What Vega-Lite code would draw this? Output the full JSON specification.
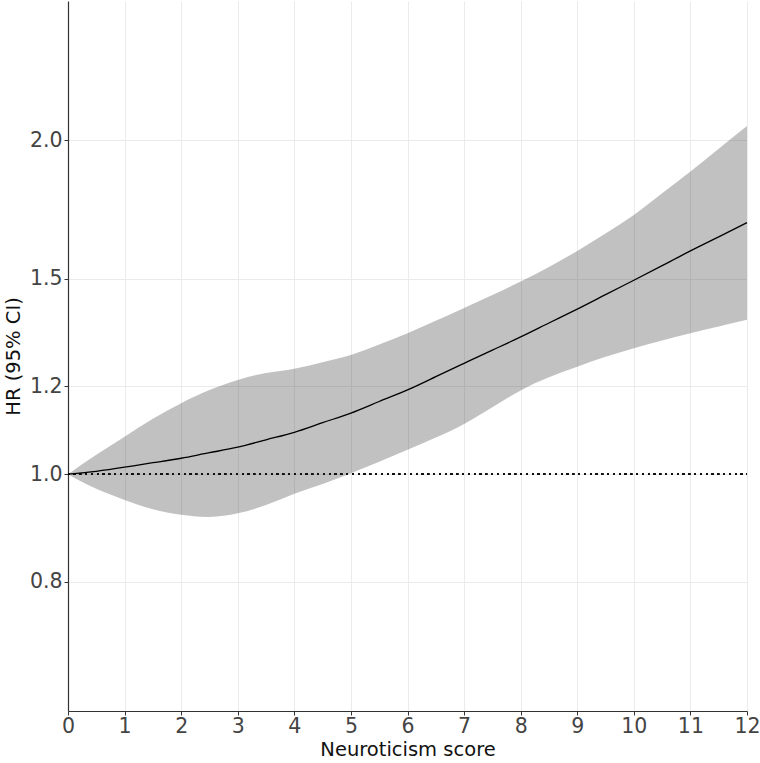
{
  "$schema": "https://vega.github.io/schema/vega-lite/v6.json",
  "width": 679,
  "height": 710,
  "autosize": {"type": "none"},
  "padding": {"left": 68, "right": 13, "top": 1, "bottom": 52},
  "background": "white",
  "config": {
    "view": {"stroke": null},
    "font": "DejaVu Sans",
    "axis": {
      "domainColor": "#333333",
      "domainWidth": 1.2,
      "tickColor": "#333333",
      "tickSize": 4,
      "tickWidth": 1,
      "gridColor": "#ebebeb",
      "gridWidth": 1,
      "labelFont": "DejaVu Sans",
      "labelFontSize": 20.5,
      "labelColor": "#444444",
      "labelFlush": false,
      "titleFont": "DejaVu Sans",
      "titleFontWeight": "normal",
      "titleColor": "#111111"
    }
  },
  "data": {
    "values": [
      {"score": 0, "hr": 1.0, "lo": 1.0, "hi": 1.0},
      {"score": 0.5, "hr": 1.006, "lo": 0.970, "hi": 1.041},
      {"score": 1, "hr": 1.0146, "lo": 0.948, "hi": 1.081},
      {"score": 1.5, "hr": 1.0241, "lo": 0.930, "hi": 1.122},
      {"score": 2, "hr": 1.0337, "lo": 0.919, "hi": 1.159},
      {"score": 2.5, "hr": 1.0456, "lo": 0.915, "hi": 1.191},
      {"score": 3, "hr": 1.0576, "lo": 0.922, "hi": 1.216},
      {"score": 3.5, "hr": 1.0741, "lo": 0.938, "hi": 1.234},
      {"score": 4, "hr": 1.0909, "lo": 0.960, "hi": 1.245},
      {"score": 4.5, "hr": 1.1129, "lo": 0.980, "hi": 1.262},
      {"score": 5, "hr": 1.1354, "lo": 1.002, "hi": 1.281},
      {"score": 5.5, "hr": 1.163, "lo": 1.026, "hi": 1.309},
      {"score": 6, "hr": 1.1912, "lo": 1.052, "hi": 1.340},
      {"score": 6.5, "hr": 1.2246, "lo": 1.079, "hi": 1.375},
      {"score": 7, "hr": 1.259, "lo": 1.110, "hi": 1.412},
      {"score": 7.5, "hr": 1.294, "lo": 1.149, "hi": 1.451},
      {"score": 8, "hr": 1.330, "lo": 1.190, "hi": 1.492},
      {"score": 8.5, "hr": 1.369, "lo": 1.223, "hi": 1.538},
      {"score": 9, "hr": 1.409, "lo": 1.250, "hi": 1.590},
      {"score": 9.5, "hr": 1.452, "lo": 1.276, "hi": 1.649},
      {"score": 10, "hr": 1.496, "lo": 1.299, "hi": 1.713},
      {"score": 10.5, "hr": 1.542, "lo": 1.320, "hi": 1.792},
      {"score": 11, "hr": 1.590, "lo": 1.340, "hi": 1.875},
      {"score": 11.5, "hr": 1.637, "lo": 1.359, "hi": 1.966},
      {"score": 12, "hr": 1.686, "lo": 1.378, "hi": 2.061}
    ]
  },
  "encoding": {
    "x": {
      "field": "score",
      "type": "quantitative",
      "title": "Neuroticism score",
      "scale": {"domain": [0, 12], "nice": false, "zero": false},
      "axis": {"values": [0,1,2,3,4,5,6,7,8,9,10,11,12], "format": "d", "labelPadding": 1, "titlePadding": 3.5, "titleFontSize": 19.5}
    }
  },
  "layer": [
    {
      "mark": {"type": "area", "fill": "#333333", "opacity": 0.3, "interpolate": "natural"},
      "encoding": {
        "y": {
          "field": "lo",
          "type": "quantitative",
          "title": "HR (95% CI)",
          "scale": {"type": "log", "domain": [0.6115, 2.672], "nice": false, "zero": false},
          "axis": {"values": [0.8, 1.0, 1.2, 1.5, 2.0], "format": ".1f", "labelPadding": 2, "titlePadding": 6, "titleFontSize": 19.5}
        },
        "y2": {"field": "hi"}
      }
    },
    {
      "mark": {"type": "rule", "color": "#111111", "strokeWidth": 1.3, "strokeDash": [1.5, 4.3]},
      "encoding": {"y": {"datum": 1}, "x": {"datum": 0}, "x2": {"datum": 12}}
    },
    {
      "mark": {"type": "line", "color": "black", "strokeWidth": 1.3, "interpolate": "natural"},
      "encoding": {"y": {"field": "hr", "type": "quantitative"}}
    }
  ]
}
